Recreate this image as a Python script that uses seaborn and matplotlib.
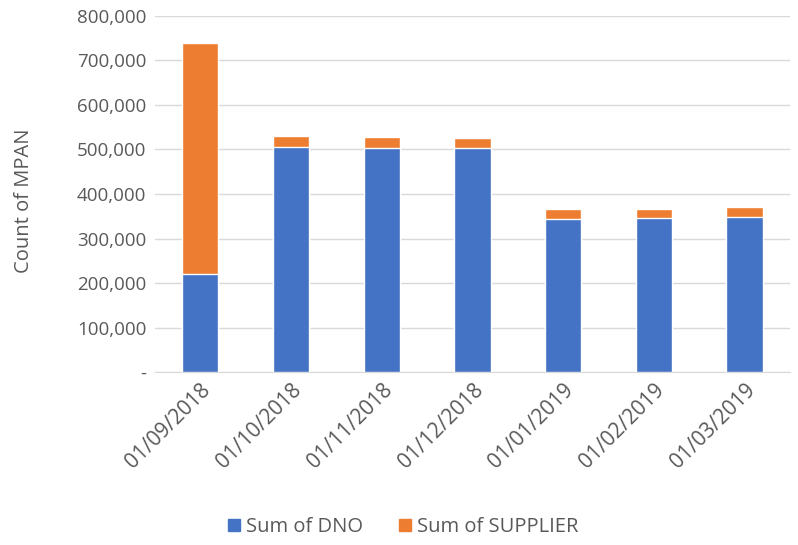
import matplotlib
matplotlib.use("Agg")
import matplotlib.pyplot as plt
import seaborn as sns
import pandas as pd
from matplotlib.patches import Patch
from matplotlib.ticker import FuncFormatter

months = ["01/09/2018", "01/10/2018", "01/11/2018", "01/12/2018",
          "01/01/2019", "01/02/2019", "01/03/2019"]
dno = [221500, 505500, 504000, 502500, 344000, 347000, 349000]
supplier = [518500, 24000, 23500, 22500, 22500, 19000, 21000]

blue = "#4472C4"
orange = "#ED7D31"
grey = "#595959"

df = pd.DataFrame({"Month": months, "DNO": dno, "SUPPLIER": supplier})
df["Total"] = df["DNO"] + df["SUPPLIER"]

sns.set_style("white")
plt.rcParams["font.family"] = ["Open Sans", "DejaVu Sans"]

fig = plt.figure(figsize=(7.98, 5.45), dpi=100)
ax = fig.add_axes([0.194, 0.317, 0.796, 0.654])

# stacked: total in orange behind, DNO in blue on top of it
sns.barplot(data=df, x="Month", y="Total", color=orange, width=0.4,
            saturation=1, ax=ax, zorder=2)
sns.barplot(data=df, x="Month", y="DNO", color=blue, width=0.4,
            saturation=1, ax=ax, zorder=3)

ax.set_ylim(0, 800000)
ax.set_yticks(range(0, 800001, 100000))
ax.yaxis.set_major_formatter(FuncFormatter(lambda v, p: "-" if v == 0 else f"{int(v):,}"))
ax.grid(axis="y", color="#d9d9d9", linewidth=1, zorder=0)
ax.set_axisbelow(True)
for s in ["top", "right", "left"]:
    ax.spines[s].set_visible(False)
ax.spines["bottom"].set_color("#d9d9d9")

ax.set_xlabel("")
ax.set_ylabel("Count of MPAN", fontsize=14.5, color=grey)
ax.yaxis.set_label_coords(-0.19, 0.48)
ax.tick_params(axis="y", labelsize=13.5, colors=grey, length=0, pad=6)
ax.tick_params(axis="x", labelsize=15, colors=grey, length=0, pad=5)
plt.setp(ax.get_xticklabels(), rotation=45, ha="right", rotation_mode="anchor")

handles = [Patch(color=blue, label="Sum of DNO"),
           Patch(color=orange, label="Sum of SUPPLIER")]
fig.legend(handles=handles, loc="center", bbox_to_anchor=(0.505, 0.033), ncol=2,
           frameon=False, fontsize=14.5, handlelength=0.6, handleheight=0.6,
           handletextpad=0.3, columnspacing=1.8, labelcolor=grey)

fig.savefig("out.png", dpi=100)
